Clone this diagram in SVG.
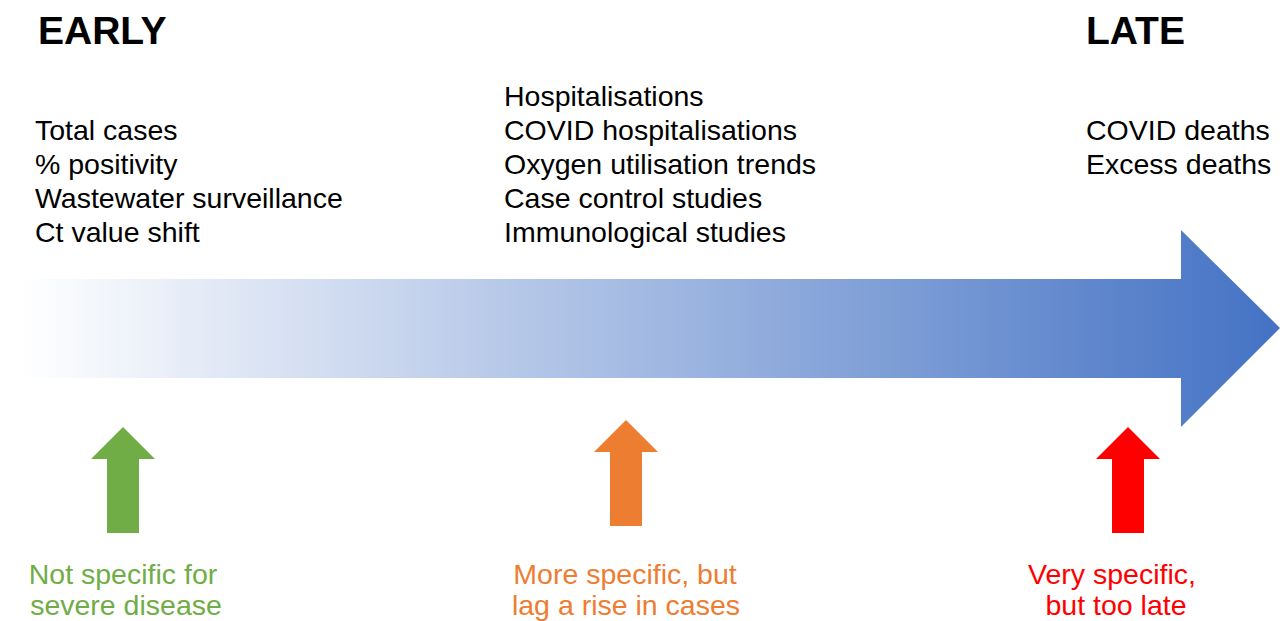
<svg xmlns="http://www.w3.org/2000/svg" width="1282" height="621" viewBox="0 0 1282 621">
  <style>
    text { font-family: "Liberation Sans", Arial, sans-serif; font-size: 28.5px; fill: #000; }
    .head { font-weight: bold; font-size: 39px; }
    .mid { text-anchor: middle; }
    .green { fill: #70AD47; }
    .orange { fill: #ED7D31; }
    .red { fill: #FF0000; }
  </style>
  <defs>
    <linearGradient id="timeFill" gradientUnits="userSpaceOnUse" x1="20" y1="0" x2="1280" y2="0">
      <stop offset="0" stop-color="#FFFFFF"/>
      <stop offset="1" stop-color="#4472C4"/>
    </linearGradient>
  </defs>
  <rect width="1282" height="621" fill="#FFFFFF"/>

  <!-- time axis: wide arrow fading from white to blue -->
  <g id="timeline">
    <polygon points="20,279 1181,279 1181,230 1280,328 1181,427 1181,378 20,378" fill="url(#timeFill)"/>
  </g>

  <g id="early-label"><text class="head" x="38" y="44">EARLY</text></g>
  <g id="late-label"><text class="head" x="1086" y="44">LATE</text></g>

  <g id="early-metrics">
    <text x="35" y="140">Total cases</text>
    <text x="35" y="174">% positivity</text>
    <text x="35" y="208">Wastewater surveillance</text>
    <text x="35" y="242">Ct value shift</text>
  </g>

  <g id="mid-metrics">
    <text x="504" y="106">Hospitalisations</text>
    <text x="504" y="140">COVID hospitalisations</text>
    <text x="504" y="174">Oxygen utilisation trends</text>
    <text x="504" y="208">Case control studies</text>
    <text x="504" y="242">Immunological studies</text>
  </g>

  <g id="late-metrics">
    <text x="1086" y="140">COVID deaths</text>
    <text x="1086" y="174">Excess deaths</text>
  </g>

  <!-- upward indicator arrows -->
  <g id="connectors">
    <polygon points="123,427 155,459 139,459 139,533 107,533 107,459 91,459" fill="#70AD47"/>
    <polygon points="626,420 658,452 642,452 642,526 610,526 610,452 594,452" fill="#ED7D31"/>
    <polygon points="1128,427 1160,459 1144,459 1144,533 1112,533 1112,459 1096,459" fill="#FF0000"/>
  </g>

  <g id="early-note">
    <text class="green mid" x="123" y="584">Not specific for</text>
    <text class="green mid" x="126" y="615">severe disease</text>
  </g>
  <g id="mid-note">
    <text class="orange mid" x="625" y="584">More specific, but</text>
    <text class="orange mid" x="626" y="615">lag a rise in cases</text>
  </g>
  <g id="late-note">
    <text class="red mid" x="1112" y="584">Very specific,</text>
    <text class="red mid" x="1116" y="615">but too late</text>
  </g>
</svg>
